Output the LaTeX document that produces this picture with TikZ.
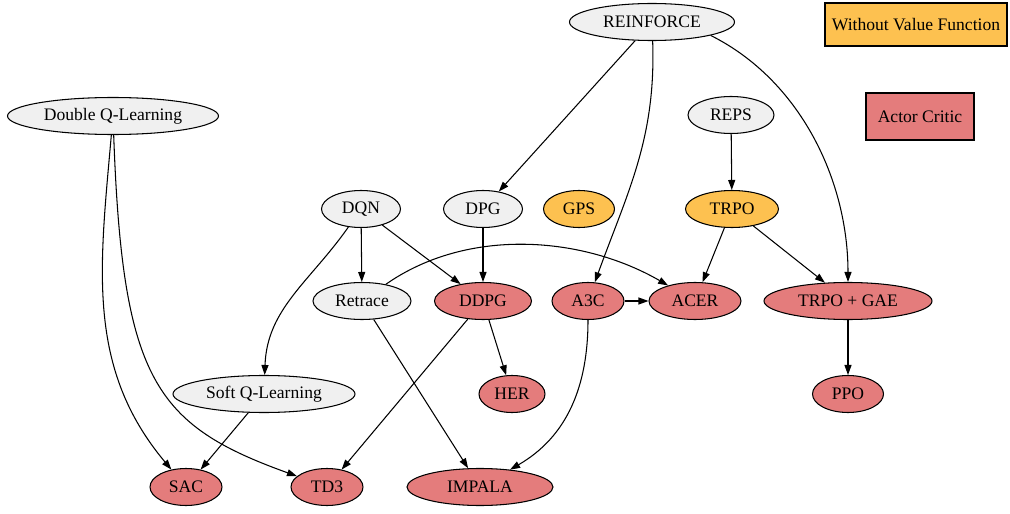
\documentclass[tikz,border=0pt]{standalone}
\usepackage{fontspec}
\setmainfont{Liberation Serif}
\usepackage{tikz}
\usetikzlibrary{shapes.geometric, arrows.meta, positioning}
\definecolor{mydark}{RGB}{0,0,0}
\definecolor{hdrgray}{RGB}{240,240,240}
\definecolor{hdrorange}{RGB}{253,193,80}
\definecolor{hdrred}{RGB}{228,124,124}
\tikzset{
  algo/.style={ellipse, draw=mydark, fill=hdrgray, inner sep=0pt,
    minimum height=0.74cm, font=\fontsize{10}{12}\selectfont, line width=0.6pt},
  acalgo/.style={algo, fill=hdrred},
  novfalgo/.style={algo, fill=hdrorange},
  legendbox/.style={rectangle, draw=mydark, inner sep=0pt,
    font=\fontsize{10}{12}\selectfont, line width=0.6pt},
  arrow/.style={-{Triangle[length=0.2cm, width=0.14cm]}, line width=0.6pt, color=mydark}
}

\begin{document}
\begin{tikzpicture}
  \useasboundingbox (0,0) rectangle (20.2,-10.28);

  % Legend
  \node[legendbox, fill=hdrorange, minimum width=3.64cm, minimum height=0.86cm] (novf) at (18.32,-0.49) {Without Value Function};
  \node[legendbox, fill=hdrred, minimum width=2.16cm, minimum height=0.94cm] (ac) at (18.4,-2.33) {Actor Critic};

  % Top rows
  \node[algo, minimum width=3.3cm] (reinforce) at (13.04,-0.44) {REINFORCE};
  \node[algo, minimum width=4.22cm] (dql) at (2.26,-2.32) {Double Q-Learning};
  \node[algo, minimum width=1.72cm] (reps) at (14.62,-2.3) {REPS};

  % Middle row
  \node[algo, minimum width=1.58cm] (dqn) at (7.22,-4.18) {DQN};
  \node[algo, minimum width=1.58cm] (dpg) at (9.66,-4.18) {DPG};
  \node[novfalgo, minimum width=1.42cm] (gps) at (11.58,-4.18) {GPS};
  \node[novfalgo, minimum width=1.86cm] (trpo) at (14.64,-4.18) {TRPO};

  \node[algo, minimum width=1.96cm] (retrace) at (7.24,-6.02) {Retrace};
  \node[acalgo, minimum width=1.94cm] (ddpg) at (9.66,-6.02) {DDPG};
  \node[acalgo, minimum width=1.44cm] (a3c) at (11.76,-6.02) {A3C};
  \node[acalgo, minimum width=1.84cm] (acer) at (13.9,-6.02) {ACER};
  \node[acalgo, minimum width=3.36cm] (trpogae) at (16.96,-6.02) {TRPO + GAE};

  % Bottom rows
  \node[algo, minimum width=3.64cm] (softq) at (5.28,-7.88) {Soft Q-Learning};
  \node[acalgo, minimum width=1.32cm] (her) at (10.24,-7.88) {HER};
  \node[acalgo, minimum width=1.42cm] (ppo) at (16.96,-7.88) {PPO};

  \node[acalgo, minimum width=1.44cm] (sac) at (3.72,-9.74) {SAC};
  \node[acalgo, minimum width=1.44cm] (td3) at (6.54,-9.74) {TD3};
  \node[acalgo, minimum width=2.92cm] (impala) at (9.6,-9.74) {IMPALA};

  % Edges
  \draw[arrow] (reinforce) -- (dpg);
  \draw[arrow] (reinforce) to[out=-88, in=70] (a3c);
  \draw[arrow] (reinforce.south east) .. controls (16,-1.6) and (16.96,-3.6) .. (trpogae.north);
  \draw[arrow] (reps) -- (trpo);
  \draw[arrow] (trpo) -- (acer);
  \draw[arrow] (trpo) -- (trpogae);
  \draw[arrow] (dpg) -- (ddpg);
  \draw[arrow] (dqn) -- (retrace);
  \draw[arrow] (dqn) -- (ddpg);
  \draw[arrow] (dqn) to[out=-125, in=88] (softq);
  \draw[arrow] (retrace) to[out=35, in=150, looseness=0.9] (acer);
  \draw[arrow] (retrace) -- (impala);
  \draw[arrow] (ddpg) -- (her);
  \draw[arrow] (ddpg) -- (td3);
  \draw[arrow] (a3c) -- (acer);
  \draw[arrow] (a3c) to[out=-90, in=30] (impala);
  \draw[arrow] (trpogae) -- (ppo);
  \draw[arrow] (dql) to[out=-95, in=130] (sac);
  \draw[arrow] (dql) .. controls (2.45,-7.6) and (3.1,-8.5) .. (td3);
  \draw[arrow] (softq) -- (sac);
\end{tikzpicture}
\end{document}
